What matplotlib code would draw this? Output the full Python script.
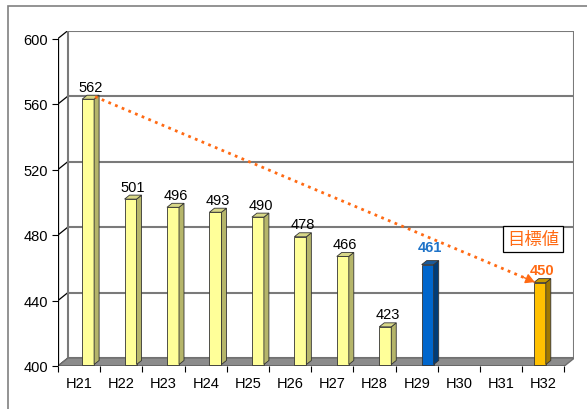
import numpy as np
import matplotlib.pyplot as plt
from matplotlib.patches import Polygon, Rectangle

plt.rcParams['font.family'] = ['Liberation Sans', 'Noto Sans CJK JP', 'DejaVu Sans']

# datos
years = ["H21", "H22", "H23", "H24", "H25", "H26", "H27", "H28", "H29", "H30", "H31", "H32"]
values = [562, 501, 496, 493, 490, 478, 466, 423, 461, None, None, 450]
face_colors = ["#FFFF99"] * 8 + ["#0066CC", None, None, "#FFC000"]
side_colors = ["#B5B56A"] * 8 + ["#003C78", None, None, "#A07800"]
top_colors = ["#D8D888"] * 8 + ["#1A5A9A", None, None, "#C89A00"]
label_colors = ["black"] * 8 + ["#1E73C8", None, None, "#FF6A13"]
label_bold = [False] * 8 + [True, False, False, True]
y_ticks = [400, 440, 480, 520, 560, 600]
target_text = "目標値"

# escala en pixeles (para el efecto 3D)
px_x = 1 / 42.2       # unidades x por pixel
px_y = 40 / 65.5      # unidades y por pixel
dx, dy = 10 * px_x, 8 * px_y
ymin, ymax = 400, 600
n = len(years)

fig = plt.figure(figsize=(5.87, 4.10), dpi=100)
W, H = 587, 410
left_px, right_px = 58, 58 + (n + dx) / px_x
bot_px = 367
top_px = bot_px - (ymax + dy - ymin) / px_y
ax = fig.add_axes([left_px / W, (H - bot_px) / H, (right_px - left_px) / W, (bot_px - top_px) / H])
ax.set_xlim(-0.5, n - 0.5 + dx)
ax.set_ylim(ymin, ymax + dy)

# borde exterior
fig.patches.append(Rectangle((8 / W, -0.1), 1.2, (H - 7) / H + 0.1, transform=fig.transFigure,
                             fill=False, edgecolor="#808080", lw=1.2))

x0, x1 = -0.5, n - 0.5
# piso
ax.add_patch(Polygon([(x0, ymin), (x1, ymin), (x1 + dx, ymin + dy), (x0 + dx, ymin + dy)],
                     closed=True, facecolor="#8C8C8C", edgecolor="#6E6E6E", lw=1, zorder=1))
# pared del fondo y rejilla
for v in y_ticks:
    ax.plot([x0 + dx, x1 + dx], [v + dy, v + dy], color="#7A7A7A", lw=1.5, zorder=0.5)
    ax.plot([x0, x0 + dx], [v, v + dy], color="black", lw=0.9, zorder=0.5)
ax.plot([x0 + dx, x0 + dx], [ymin + dy, ymax + dy], color="#7A7A7A", lw=1.5, zorder=0.5)
ax.plot([x1 + dx, x1 + dx], [ymin + dy, ymax + dy], color="#7A7A7A", lw=1.5, zorder=0.5)
ax.plot([x0, x0], [ymin, ymax], color="black", lw=0.9, zorder=3)
ax.plot([x0, x1], [ymin, ymin], color="black", lw=0.9, zorder=3)

# barras 3D
bw = 12 * px_x
sx, sy = 5 * px_x, 4 * px_y
base = ymin + 1.5 * px_y
bar_left = {}
for i, v in enumerate(values):
    if v is None:
        continue
    # la serie naranja (meta) esta desplazada a la izquierda
    off = -9.5 * px_x if i == n - 1 else (3 + 0.25 * i) * px_x
    xl = i + off
    xr = xl + bw
    bar_left[i] = xl
    top = v + 1.5 * px_y
    ax.add_patch(Polygon([(xl, base), (xr, base), (xr, top), (xl, top)], closed=True,
                         facecolor=face_colors[i], edgecolor="#333333", lw=0.6, zorder=4))
    ax.add_patch(Polygon([(xr, base), (xr + sx, base + sy), (xr + sx, top + sy), (xr, top)], closed=True,
                         facecolor=side_colors[i], edgecolor="#333333", lw=0.6, zorder=4))
    ax.add_patch(Polygon([(xl, top), (xr, top), (xr + sx, top + sy), (xl + sx, top + sy)], closed=True,
                         facecolor=top_colors[i], edgecolor="#333333", lw=0.6, zorder=4))
    extra = 5 * px_y if i == 8 else 0
    ax.text(xl + (bw + sx) / 2, top + sy + 1.5 * px_y + extra, str(v), ha="center", va="bottom",
            fontsize=10.5, color=label_colors[i], fontweight="bold" if label_bold[i] else "normal",
            zorder=6)

# linea objetivo (punteada con flecha)
i0, i1 = 0, n - 1
xs = bar_left[i0] + bw + 1 * px_x
ys = values[i0] + 4 * px_y
xe = bar_left[i1] + 1 * px_x
ye = values[i1] + 2 * px_y
ax.plot([xs, xe], [ys, ye], color="#FF6A13", lw=2, ls=(0, (1, 1.6)), zorder=5)
t = 0.025
ax.annotate("", xy=(xe, ye), xytext=(xe - t * (xe - xs), ye - t * (ye - ys)),
            arrowprops=dict(arrowstyle="-|>,head_length=0.45,head_width=0.25", color="#FF6A13",
                            lw=1, shrinkA=0, shrinkB=0, mutation_scale=12), zorder=5)
ax.text(10.76, 477.6, target_text, ha="center", va="center", fontsize=12.5, color="#FF6A13",
        family=["Noto Sans CJK JP", "DejaVu Sans"],
        bbox=dict(boxstyle="square,pad=0.22", facecolor="white", edgecolor="black", lw=0.9), zorder=6)

# ejes
for s in ax.spines.values():
    s.set_visible(False)
ax.set_yticks(y_ticks)
ax.tick_params(axis="y", length=4, width=0.8, labelsize=10.5, pad=3)
ax.set_xticks(np.arange(-0.5, n, 1.0))
ax.set_xticklabels([])
ax.tick_params(axis="x", length=4, width=0.8, direction="out")
for i, name in enumerate(years):
    ax.text(i, ymin - 10 * px_y, name, ha="center", va="top", fontsize=10.5)
ax.patch.set_visible(False)

fig.savefig("out.png", dpi=100)
